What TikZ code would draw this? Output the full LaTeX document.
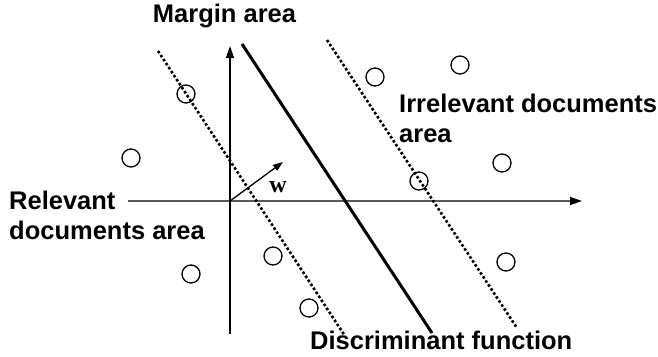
\documentclass[tikz,border=0pt]{standalone}
\usepackage{fontspec}
\usepackage{tikz}
\usetikzlibrary{arrows.meta,positioning}
\newfontfamily\labfont{Liberation Sans}
\newfontfamily\vecfont{Liberation Serif}
\tikzset{
  doc/.style={draw,circle,minimum size=18pt,inner sep=0pt,line width=1.3pt},
  lab/.style={font=\labfont\bfseries\fontsize{25.5}{30}\selectfont,align=left,inner sep=0pt},
  axis/.style={-{Triangle[length=12pt,width=8pt]},line width=1.3pt},
  hyper/.style={line width=3pt},
  margin/.style={line width=2.6pt,dash pattern=on 2.6pt off 2.2pt},
}
\begin{document}
\begin{tikzpicture}[x=1pt,y=-1pt]
\useasboundingbox (0,0) rectangle (658,356);
% axes
\coordinate (o) at (230,201);
\coordinate (xs) at (128,201);
\coordinate (xe) at (582,201);
\coordinate (ys) at (230,334);
\coordinate (ye) at (230,46);
\draw[axis,draw=black!65,-{Triangle[length=12pt,width=8pt,black]}] (xs) -- (xe);
\draw[axis] (ys) -- (ye);
% discriminant function and margins
\coordinate (h1) at (242,44);
\coordinate (h2) at (432,333);
\coordinate (m1) at (158,51);
\coordinate (m2) at (345,336);
\coordinate (n1) at (327,40);
\coordinate (n2) at (517,328);
\draw[hyper] (h1) -- (h2);
\draw[margin] (m1) -- (m2);
\draw[margin] (n1) -- (n2);
% normal vector
\coordinate (wt) at (283,162);
\draw[-{Triangle[length=10pt,width=7pt]},line width=1.3pt] (o) -- (wt);
\node[font=\vecfont\bfseries\fontsize{24}{24}\selectfont,anchor=base,inner sep=0pt] (w) at (278,192) {w};
% documents
\foreach \n/\x/\y in {1/186/94,2/131/158,3/191/274,4/273/256,5/309/308,
  6/375/77,7/460/65,8/502/163,9/419/181,10/506/262}
  \node[doc] (d\n) at (\x,\y) {};
% labels
\node[lab,anchor=base] (marg) at (224.5,23) {Margin area};
\node[lab,anchor=north west] (irr) at (399,94) {Irrelevant documents\\area};
\node[lab,anchor=north west] (rel) at (9,191) {Relevant\\documents area};
\node[lab,anchor=base west] (disc) at (310,349) {Discriminant function};
\end{tikzpicture}
\end{document}
